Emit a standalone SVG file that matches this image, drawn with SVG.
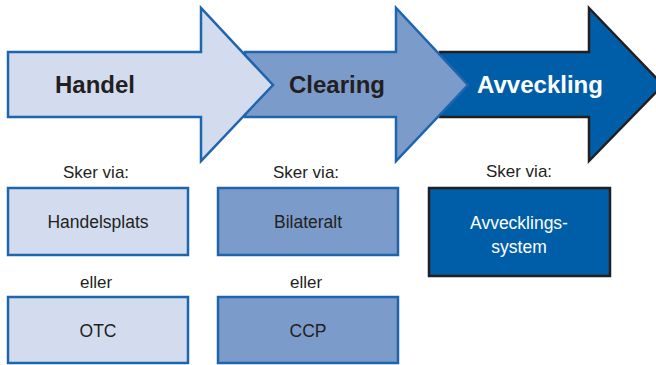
<svg xmlns="http://www.w3.org/2000/svg" width="656" height="365" viewBox="0 0 656 365">
<style>
.t{font-family:"Liberation Sans",Arial,sans-serif;fill:#231f20;text-anchor:middle}
.h{font-size:24px;font-weight:bold}
.s{font-size:17px}
.b{font-size:17.5px}
.w{fill:#ffffff}
.c1{fill:#d3dcef;stroke:#1f65ad;stroke-width:2.5}
.c2{fill:#7b9bcb;stroke:#1f65ad;stroke-width:2.5}
.c3{fill:#005ea8;stroke:#231f20;stroke-width:2.5}
</style>
<rect width="656" height="365" fill="#ffffff"/>
<g id="arrow-avveckling">
<polygon class="c3" points="440,52 589,52 589,8 663,85 589,161 589,117 440,117"/>
<text class="t h w" x="540" y="93">Avveckling</text>
</g>
<g id="arrow-clearing">
<polygon class="c2" points="245,52 396,52 396,8 468,85 396,161 396,117 245,117"/>
<text class="t h" x="337" y="93">Clearing</text>
</g>
<g id="arrow-handel">
<polygon class="c1" points="8,52 201,52 201,8 273,85 201,161 201,117 8,117"/>
<text class="t h" x="95" y="93">Handel</text>
</g>
<g id="label-sker1"><text class="t s" x="96" y="178">Sker via:</text></g>
<g id="label-sker2"><text class="t s" x="306" y="178">Sker via:</text></g>
<g id="label-sker3"><text class="t s" x="519" y="177">Sker via:</text></g>
<g id="box-handelsplats">
<rect class="c1" x="8" y="188" width="180" height="67"/>
<text class="t b" x="98" y="228">Handelsplats</text>
</g>
<g id="box-bilateralt">
<rect class="c2" x="218" y="188" width="180" height="67"/>
<text class="t b" x="308" y="228">Bilateralt</text>
</g>
<g id="box-avvecklingssystem">
<rect class="c3" x="429" y="188" width="181" height="88"/>
<text class="t b w" x="519" y="229">Avvecklings-</text>
<text class="t b w" x="519" y="253">system</text>
</g>
<g id="label-eller1"><text class="t s" x="96" y="288">eller</text></g>
<g id="label-eller2"><text class="t s" x="306" y="288">eller</text></g>
<g id="box-otc">
<rect class="c1" x="8" y="297" width="180" height="66"/>
<text class="t b" x="98" y="337">OTC</text>
</g>
<g id="box-ccp">
<rect class="c2" x="218" y="297" width="180" height="66"/>
<text class="t b" x="308" y="337">CCP</text>
</g>
<g id="connectors"></g>
</svg>
